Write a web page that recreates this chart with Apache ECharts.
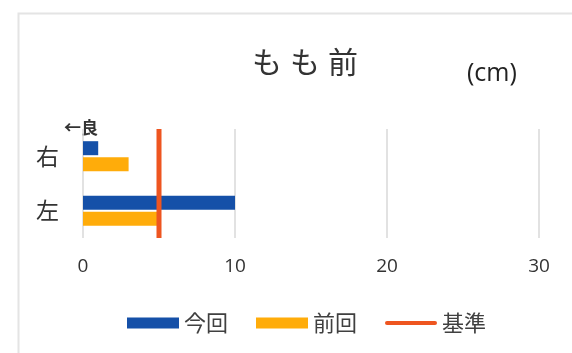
<!DOCTYPE html>
<html>
<head>
<meta charset="utf-8">
<script src="https://cdn.jsdelivr.net/npm/echarts@6/dist/echarts.min.js"></script>
<style>
  html, body { margin: 0; padding: 0; background: #fff; }
  #chart { width: 572px; height: 353px; }
</style>
</head>
<body>
<div id="chart"></div>
<script>
// Thigh-front measurements (cm), left and right
const categories = ['左', '右'];
const currentValues = [10, 1];   // 今回
const previousValues = [5, 3];   // 前回
const standardValue = 5;         // 基準
const xTicks = [0, 10, 20, 30];

const JP = '"Noto Sans CJK JP", "Noto Sans", sans-serif';
const NUM = '"Open Sans", "Noto Sans", sans-serif';

const chart = echarts.init(document.getElementById('chart'), null, { renderer: 'canvas' });

chart.setOption({
  animation: false,
  backgroundColor: '#fff',
  title: {
    text: '{c|も}{c|も}{c|前}',
    left: 300,
    textAlign: 'center',
    top: 42,
    textStyle: {
      fontWeight: 'normal',
      rich: {
        c: { fontFamily: JP, fontSize: 30, fontWeight: 'normal', color: '#333', padding: [0, 4] }
      }
    }
  },
  graphic: [
    {
      type: 'rect',
      shape: { x: 18.5, y: 13.5, width: 600, height: 400 },
      style: { fill: 'none', stroke: '#e4e4e4', lineWidth: 2 },
      silent: true
    },
    {
      type: 'text',
      left: 467,
      top: 61,
      style: { text: '(cm)', font: '25px ' + NUM, fill: '#222' }
    },
    {
      type: 'text',
      left: 64,
      top: 119,
      style: { text: '←良', font: 'bold 17px ' + JP, fill: '#333' }
    }
  ],
  legend: {
    top: 307,
    left: 122,
    itemWidth: 52,
    itemHeight: 11,
    itemGap: 28,
    textStyle: { fontFamily: JP, fontSize: 22, color: '#404040' },
    data: [
      { name: '今回', icon: 'rect' },
      { name: '前回', icon: 'rect' },
      { name: '基準', icon: 'path://M2,0 L50,0 A2,2 0 0 1 50,4 L2,4 A2,2 0 0 1 2,0 Z' }
    ]
  },
  grid: { left: 83, right: 33, top: 129, height: 109 },
  xAxis: {
    type: 'value',
    min: 0,
    max: 30,
    interval: 10,
    axisLine: { show: false },
    axisTick: { show: false },
    splitLine: { lineStyle: { color: '#d9d9d9', width: 1.5 } },
    axisLabel: {
      fontFamily: NUM, fontSize: 19, color: '#333', margin: 19,
      formatter: v => (xTicks.includes(v) ? String(v) : '')
    }
  },
  yAxis: [
    {
      type: 'category',
      data: categories,
      axisLine: { show: false },
      axisTick: { show: false },
      axisLabel: { fontFamily: JP, fontSize: 23, color: '#333', margin: 24 }
    },
    {
      type: 'value',
      min: 0,
      max: 1,
      show: false
    }
  ],
  series: [
    {
      name: '今回',
      type: 'bar',
      data: currentValues,
      barWidth: 14,
      barGap: '15%',
      itemStyle: { color: '#1550A8' }
    },
    {
      name: '前回',
      type: 'bar',
      data: previousValues,
      barWidth: 14,
      barGap: '15%',
      itemStyle: { color: '#FFAC0A' }
    },
    {
      name: '基準',
      type: 'line',
      yAxisIndex: 1,
      data: [[standardValue, 0], [standardValue, 1]],
      symbol: 'none',
      lineStyle: { color: '#EE5520', width: 5 },
      itemStyle: { color: '#EE5520' },
      z: 5
    }
  ]
});
</script>
</body>
</html>
